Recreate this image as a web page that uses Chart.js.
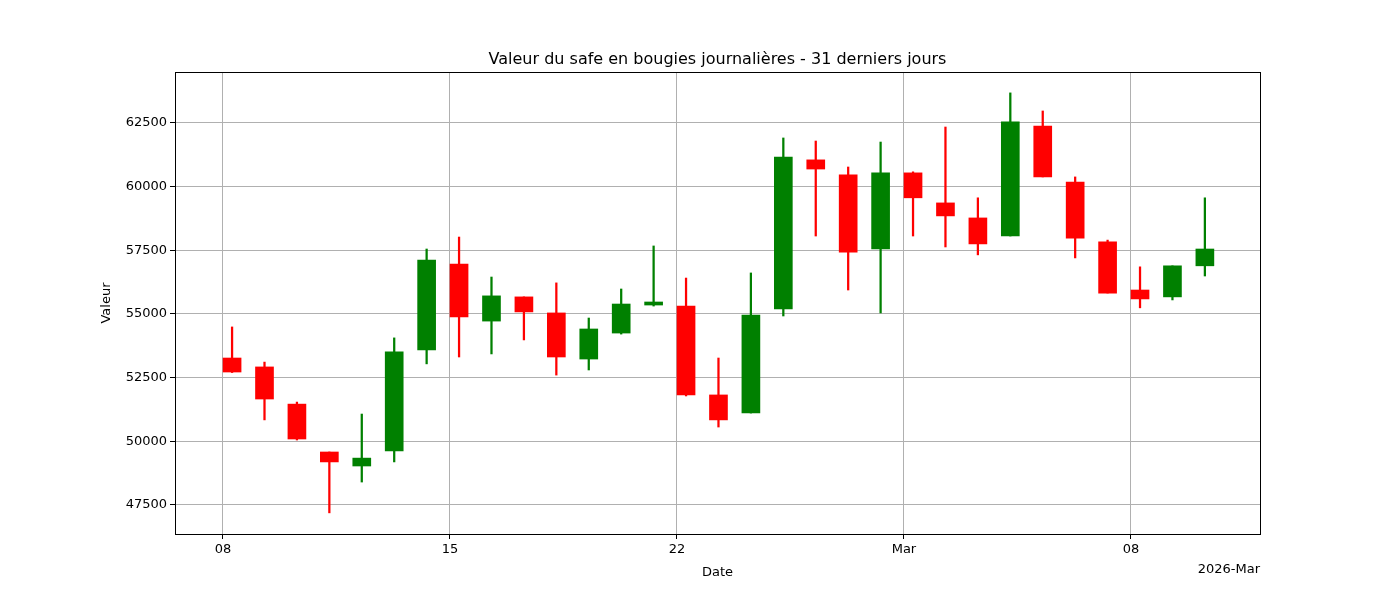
<!DOCTYPE html>
<html><head><meta charset="utf-8">
<script src="https://cdn.jsdelivr.net/npm/chart.js@4"></script>
<style>body{margin:0;background:#fff}</style></head>
<body><canvas id="c" width="1400" height="600"></canvas>
<script>
// day offset from 2026-02-08
const days = Array.from({length:31},(_,i)=>i+0.28);
const opens  = [53270,52920,51460,49580,49030,49620,53590,56960,54720,55670,55040,53230,54250,55350,55310,51820,51110,55200,61050,60460,57550,60540,59360,58770,58060,62380,60180,57830,55940,55670,56890];
const closes = [52720,51660,50090,49190,49340,53510,57120,54880,55710,55080,53310,54410,55390,55470,51820,50840,54960,61160,60690,57430,60540,59560,58850,57750,62540,60380,57980,55820,55590,56890,57550];
const highs  = [54490,53110,51540,49580,51070,54060,57550,58020,56450,55670,56220,54840,55980,57670,56410,53270,56610,61910,61790,60770,61750,60580,62340,59560,63680,62970,60380,57900,56850,56890,59560];
const lows   = [52700,50840,50050,47190,48400,49190,53040,53310,53430,53980,52600,52800,54210,55310,51780,50560,51110,54920,58060,55940,55040,58060,57630,57320,58060,60380,57200,55820,55240,55550,56490];
const xTicks = [0,7,14,21,28];
const xTickLabels = ['08','15','22','Mar','08'];
const yTicks = [47500,50000,52500,55000,57500,60000,62500];

const col = i => closes[i] >= opens[i] ? '#008000' : '#ff0000';
const frame = {id:'frame', afterDraw(ch){const a=ch.chartArea,c=ch.ctx;c.save();c.strokeStyle='#000';c.lineWidth=1;c.strokeRect(a.left+0.5,a.top+0.5,a.right-a.left,a.bottom-a.top);
 c.fillStyle='#000';c.font='16px "DejaVu Sans"';c.textAlign='center';c.fillText('Valeur du safe en bougies journalières - 31 derniers jours',(a.left+a.right)/2,64);
 c.font='13px "DejaVu Sans"';c.textAlign='right';c.fillText('2026-Mar',a.right,573);c.restore();}};
new Chart(document.getElementById('c'),{
 type:'bar',
 data:{datasets:[
  {data:days.map((d,i)=>({x:d,y:[opens[i],closes[i]]})),backgroundColor:ctx=>col(ctx.dataIndex),barThickness:18,grouped:false},
  {data:days.map((d,i)=>({x:d,y:[lows[i],highs[i]]})),backgroundColor:ctx=>col(ctx.dataIndex),barThickness:1.6,grouped:false}
 ]},
 options:{responsive:false,animation:false,
  layout:{padding:{left:95,right:140,top:72,bottom:20}},
  plugins:{legend:{display:false},tooltip:{enabled:false},title:{display:false}},
  scales:{
   x:{type:'linear',min:-1.48,max:31.98,offset:false,
    afterBuildTicks:s=>{s.ticks=xTicks.map(v=>({value:v}));},
    afterFit:s=>{s.height=46;},
    ticks:{color:'#000',font:{size:13,family:'DejaVu Sans'},callback:(v)=>xTickLabels[xTicks.indexOf(v)]},
    grid:{color:'#b0b0b0',tickLength:5,tickColor:'#000',offset:false},border:{color:'#000'},
    title:{display:true,text:'Date',color:'#000',font:{size:13,family:'DejaVu Sans'},padding:{top:2,bottom:0}}},
   y:{min:46360,max:64500,
    afterBuildTicks:s=>{s.ticks=yTicks.map(v=>({value:v}));},
    afterFit:s=>{s.width=80;},
    ticks:{color:'#000',font:{size:13,family:'DejaVu Sans'},callback:v=>String(v)},
    grid:{color:'#b0b0b0',tickLength:5,tickColor:'#000'},border:{color:'#000'},
    title:{display:true,text:'Valeur',color:'#000',font:{size:13,family:'DejaVu Sans'}}}
  }},
 plugins:[frame]
});
</script></body></html>
